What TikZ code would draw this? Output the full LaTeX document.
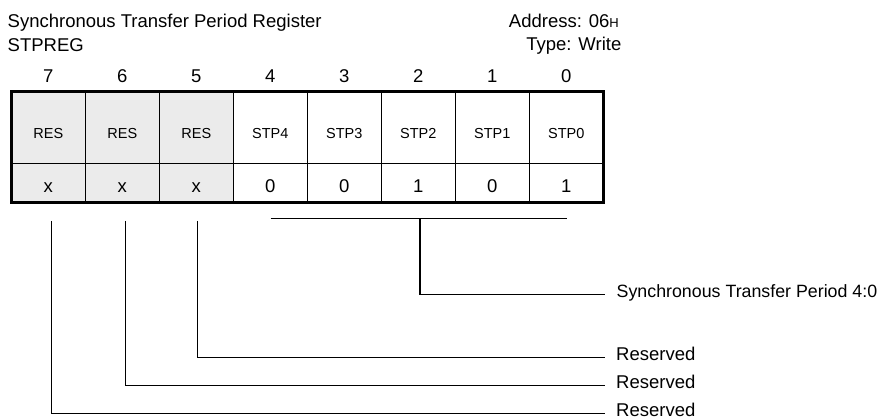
\documentclass[tikz,border=0pt]{standalone}
\usepackage{fontspec}
\setmainfont{Liberation Sans}
\definecolor{resgray}{HTML}{EBEBEB}
\begin{document}
\begin{tikzpicture}[x=1pt,y=-1pt,
  big/.style={font=\fontsize{18.5}{20}\selectfont, inner sep=0pt},
  small/.style={font=\fontsize{14.5}{16}\selectfont, inner sep=0pt},
  cell/.style={draw, line width=1.4pt, minimum width=74pt, inner sep=0pt, outer sep=0pt},
  conn/.style={line width=1.3pt}]
\useasboundingbox (0,0) rectangle (881,419);

% header texts
\node[big, anchor=base west] (title) at (7.5,28) {Synchronous Transfer Period Register};
\node[big, anchor=base west] (regname) at (7.5,52) {STPREG};
\node[big, anchor=base east] (addr) at (619,27.5) {Address: 06{\fontsize{13}{13}\selectfont H}};
\node[big, anchor=base east] (type) at (621.5,51) {Type: Write};

% cells
\foreach \b/\nm/\v [count=\i from 0] in {7/RES/x,6/RES/x,5/RES/x,4/STP4/0,3/STP3/0,2/STP2/1,1/STP1/0,0/STP0/1}{
  \pgfmathsetmacro{\x}{48.3+74*\i}
  \ifnum\b>4 \def\fc{resgray}\else\def\fc{white}\fi
  \node[cell, fill=\fc, minimum height=71.3pt] (t\b) at (\x,127.65) {};
  \node[cell, fill=\fc, minimum height=39.2pt] (b\b) at (\x,182.9) {};
  \node[big, anchor=base] (n\b) at (\x,82.5) {\b};
  \node[small, anchor=base] (l\b) at (\x,139) {\nm};
  \node[big, anchor=base] (v\b) at (\x,192.3) {\v};
}
\draw[line width=3pt] (t7.north west) rectangle (b0.south east);

% right-hand labels
\node[big, font=\fontsize{17.8}{20}\selectfont, anchor=base west] (sync) at (616.5,297.5) {Synchronous Transfer Period 4:0};
\node[big, anchor=base west] (res5) at (616,361) {Reserved};
\node[big, anchor=base west] (res6) at (616,389) {Reserved};
\node[big, anchor=base west] (res7) at (616,416.5) {Reserved};

\coordinate (se) at ([shift={(-11.5,-3)}]sync.base west);
\coordinate (e5) at ([shift={(-11,-3.3)}]res5.base west);
\coordinate (e6) at ([shift={(-11,-3.3)}]res6.base west);
\coordinate (e7) at ([shift={(-11,-3.2)}]res7.base west);

% bracket for bits 4:0
\coordinate (brL) at (270.5,218.3);
\coordinate (brR) at (566.8,218.3);
\coordinate (brM) at (420,218.3);
\draw[conn] (brL) -- (brR);
\draw[conn] (brM) |- (se);

% reserved bits
\coordinate (s5) at (197.3,221);
\coordinate (s6) at (125.7,221);
\coordinate (s7) at (51.3,221);
\draw[conn] (s5) |- (e5);
\draw[conn] (s6) |- (e6);
\draw[conn] (s7) |- (e7);
\end{tikzpicture}
\end{document}
